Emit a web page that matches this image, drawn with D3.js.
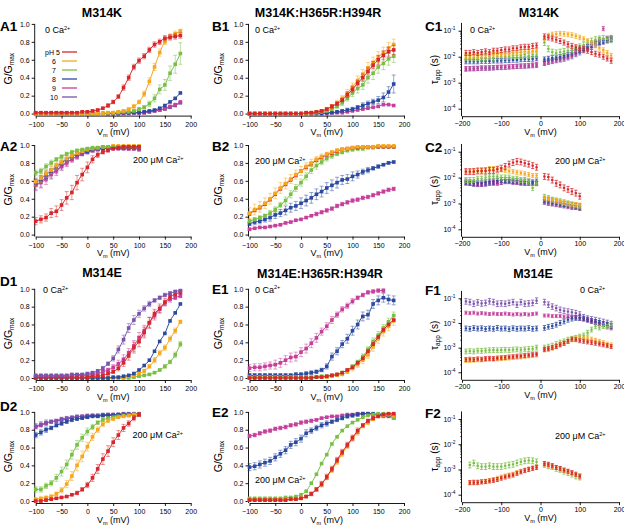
<!DOCTYPE html>
<html><head><meta charset="utf-8">
<script src="https://cdn.jsdelivr.net/npm/d3@7"></script>
<style>
body{margin:0;background:#fff}
svg{display:block}
text{font-family:"Liberation Sans",Arial,Helvetica,sans-serif;fill:#000}
</style>
</head><body>
<svg id="chart" width="624" height="526"></svg>
<script>
// ---------------- voltages (mV) ----------------
const V_G = [-100,-90,-80,-70,-60,-50,-40,-30,-20,-10,0,10,20,30,40,50,60,70,80,90,100,110,120,130,140,150,160,170,180];
const V_G_CA = [-100,-90,-80,-70,-60,-50,-40,-30,-20,-10,0,10,20,30,40,50,60,70,80,90,100];
const V_TAU_L = [-190,-180,-170,-160,-150,-140,-130,-120,-110,-100,-90,-80,-70,-60,-50,-40,-30,-20,-10];
const V_TAU_L2 = [-180,-170,-160,-150,-140,-130,-120,-110,-100,-90,-80,-70,-60,-50,-40,-30,-20,-10];
const V_TAU_R = [10,20,30,40,50,60,70,80,90,100,110,120,130,140,150,160,170,180];
const V_TAU_R2 = [10,20,30,40,50,60,70,80,90,100];

// tick labels
const X_TICKS_G = [-100,-50,0,50,100,150,200];
const Y_TICKS_G = [0,0.2,0.4,0.6,0.8,1.0];
const X_TICKS_TAU = [-200,-100,0,100,200];
const Y_TICKS_TAU = [1e-4,1e-3,1e-2,1e-1];
const PH_LABELS = ["pH 5","6","7","8","9","10"];
const TITLES = ["M314K","M314K:H365R:H394R","M314K","M314E","M314E:H365R:H394R","M314E"];

// ---------------- G/Gmax (percent) ----------------
// A1  M314K, 0 Ca
const a1_5 = [1,1,1,1,1,1,1,1,1,2,2, 3,4,6,9,13,19,29,40,52,59, 64,71,77,80,84,85,86,87];
const a1_5e = [1,1,1,1,1,1,1,1,1,1,1, 1,1,1,2,2,2,3,3,3,3, 3,3,3,3,3,3,3,3];
const a1_6 = [0,0,0,0,0,0,0,0,0,0,0, 0,0,0,1,1,2,3,5,8,13, 22,36,52,68,80,86,89,92];
const a1_6e = [1,1,1,1,1,1,1,1,1,1,1, 1,1,1,1,1,1,1,1,2,2, 3,4,4,4,3,3,3,2];
const a1_7 = [0,0,0,0,0,0,0,0,0,0,0, 0,0,0,1,1,1,2,2,3,5, 7,11,17,27,32,45,55,67];
const a1_7e = [1,1,1,1,1,1,1,1,1,1,1, 1,1,1,1,1,1,1,1,1,2, 2,3,4,5,6,8,10,12];
const a1_8 = [0,0,0,0,0,0,0,0,0,0,0, 0,0,0,0,0,0,1,1,1,1, 2,3,4,6,9,13,17,23];
const a1_9 = [0,0,0,0,0,0,0,0,0,0,0, 0,0,0,0,0,0,0,1,1,1, 1,2,3,4,6,8,10,13];
const a1_10 = [0,0,0,0,0,0,0,0,0,0,0, 0,0,0,0,0,0,0,0,1,1, 1,2,3,4,5,7,9,12];
// A2  M314K, 200 uM Ca
const a2_5 = [15,17,19,24,26,33,41,47,58,67,75,84,89,92,94,96,97,98,98,98,98];
const a2_5e = [4,4,4,5,6,6,7,8,8,7,6,4,3,2,2,1,1,1,1,1,1];
const a2_6 = [59,63,68,72,77,81,85,88,91,93,95,96,97,98,98,99,99,99,99,99,99];
const a2_6e = [5,5,4,4,4,3,3,3,2,2,2,1,1,1,1,1,1,1,1,1,1];
const a2_7 = [69,71,76,80,84,87,90,92,94,95,96,97,97,98,98,98,98,98,98,98,98];
const a2_7e = [3,3,3,3,2,2,2,2,1,1,1,1,1,1,1,1,1,1,1,1,1];
const a2_8 = [58,62,67,71,76,80,84,87,90,92,93,95,96,96,97,97,97,97,97,97,97];
const a2_8e = [4,4,4,3,3,3,2,2,2,2,1,1,1,1,1,1,1,1,1,1,1];
const a2_9 = [55,58,62,67,71,76,80,84,87,90,92,94,95,96,96,96,96,96,96,96,95];
const a2_9e = [6,6,6,5,5,4,4,3,3,2,2,2,1,1,1,1,1,1,2,2,2];
const a2_10 = [56,59,64,68,72,76,81,84,88,90,92,94,95,96,96,96,96,96,96,96,96];
const a2_10e = [6,6,5,5,4,4,4,3,3,2,2,2,1,1,1,1,1,1,1,1,1];
// B1  M314K:H365R:H394R, 0 Ca
const b1_5 = [0,0,0,0,0,0,0,0,0,0,0, 1,1,2,3,5,8,11,15,21,27, 34,40,47,54,60,65,69,71];
const b1_5e = [0,0,0,0,0,0,0,0,0,0,0, 1,1,1,1,1,2,2,2,3,3, 3,4,4,4,5,5,5,5];
const b1_6 = [0,0,0,0,0,0,0,0,0,0,0, 1,1,2,3,5,8,12,17,23,30, 37,44,51,57,63,68,73,77];
const b1_6e = [0,0,0,0,0,0,0,0,0,0,0, 1,1,1,1,2,2,3,3,4,4, 5,5,6,6,6,6,6,6];
const b1_7 = [0,0,0,0,0,0,0,0,0,0,0, 0,1,1,2,3,5,8,12,17,23, 28,32,40,45,52,56,61,64];
const b1_7e = [0,0,0,0,0,0,0,0,0,0,0, 1,1,1,1,1,2,2,3,3,4, 5,5,6,7,7,7,7,7];
const b1_8 = [0,0,0,0,0,0,0,0,0,0,0, 0,0,0,0,1,1,2,3,4,5, 7,9,11,13,15,18,24,33];
const b1_8e = [0,0,0,0,0,0,0,0,0,0,0, 0,0,0,0,1,1,1,1,2,2, 2,3,3,3,4,5,6,10];
const b1_9 = [0,0,0,0,0,0,0,0,0,0,0, 0,0,0,0,0,1,1,1,2,3, 4,5,6,7,8,10,10,9];
// B2  M314K:H365R:H394R, 200 uM Ca
const b2_5 = [23,27,30,34,39,45,51,56,61,66,71, 75,79,83,86,89,91,93,95,96,97, 97,98,98,98,98,98,98,98];
const b2_6 = [24,28,31,35,40,46,52,57,62,67,71, 76,80,84,87,90,92,94,95,96,97, 98,98,98,98,99,99,99,99];
const b2_6e = [6,6,6,6,6,6,6,6,5,5,5, 4,4,3,3,2,2,2,2,1,1, 1,1,1,1,1,1,1,1];
const b2_7 = [15,17,19,21,24,28,33,38,45,52,58, 65,72,77,81,85,88,90,92,94,95, 96,96,97,97,98,98,98,98];
const b2_7e = [2,2,2,2,3,3,3,4,4,4,4, 4,4,4,3,3,3,2,2,2,2, 2,2,1,1,1,1,1,1];
const b2_8 = [12,14,15,17,19,22,24,27,30,32,35, 38,41,45,48,52,55,58,61,62,65, 67,70,72,74,76,78,80,81];
const b2_8e = [2,3,3,3,4,4,4,5,5,5,6, 6,6,6,6,6,6,6,5,5,5, 4,3,3,2,2,1,1,1];
const b2_9 = [6,7,8,8,9,10,11,13,14,16,17, 19,21,23,25,27,29,32,34,36,38, 39,41,42,44,46,48,50,51];
const b2_9e = [1,1,1,1,1,1,1,1,1,1,1, 1,1,2,2,2,2,2,2,2,2, 2,2,2,2,2,2,2,2];
// D1  M314E, 0 Ca
const d1_10 = [3,3,3,3,3,3,3,4,4,4,5, 6,8,11,16,22,32,43,56,65,72, 78,83,87,90,93,95,97,98];
const d1_10e = [1,1,1,1,1,1,1,1,1,1,1, 1,1,2,2,3,4,5,5,5,4, 3,3,2,2,2,2,1,1];
const d1_9 = [2,2,2,2,2,2,2,2,3,3,3, 4,5,7,9,12,16,21,28,36,45, 53,62,70,77,84,88,90,92];
const d1_9e = [1,1,1,1,1,1,1,1,1,1,1, 1,1,2,2,3,4,5,5,6,6, 6,6,5,4,3,3,2,2];
const d1_8 = [0,0,0,0,0,0,0,0,0,0,0, 0,0,0,0,1,1,2,3,5,9, 14,20,30,41,50,64,73,83];
const d1_7 = [0,0,0,0,0,0,0,0,0,0,0, 0,0,0,0,0,0,0,0,1,2, 3,4,6,9,13,18,26,38];
const d1_7e = [0,0,0,0,0,0,0,0,0,0,0, 0,0,0,0,0,0,0,0,1,1, 1,1,1,1,2,2,3,3];
const d1_6 = [0,0,0,0,0,0,0,0,0,0,0, 0,0,0,0,0,0,1,2,3,5, 8,13,20,28,34,44,53,63];
const d1_6e = [0,0,0,0,0,0,0,0,0,0,0, 0,0,0,0,0,0,1,1,1,1, 2,2,3,3,3,3,3,2];
const d1_5 = [1,1,1,1,1,1,1,1,1,1,1, 2,2,3,5,7,11,17,25,34,41, 51,62,72,78,85,91,94,96];
const d1_5e = [0,0,0,0,0,0,0,0,0,0,0, 1,1,1,2,2,3,4,5,6,6, 6,6,5,5,4,3,2,2];
// D2  M314E, 200 uM Ca
const d2_10 = [84,86,88,89,90,92,93,94,95,95,96,96,96,97,97,97,97,98,98,98,98];
const d2_10e = [3,3,3,2,2,2,2,1,1,1,1,1,1,1,1,1,1,1,1,1,1];
const d2_9 = [83,85,87,89,90,91,92,93,94,95,95,96,96,96,97,97,97,97,97,97,97];
const d2_8 = [74,77,80,82,85,87,89,91,92,93,94,95,95,96,96,96,97,97,97,97,97];
const d2_8e = [3,3,3,2,2,2,2,2,1,1,1,1,1,1,1,1,1,1,1,1,1];
const d2_7 = [13,13,17,20,26,33,41,52,63,71,78,83,88,91,93,94,95,96,96,97,97];
const d2_7e = [3,3,3,3,4,5,5,5,5,4,4,3,2,2,1,1,1,1,1,1,1];
const d2_6 = [2,3,4,5,8,12,19,28,40,50,61,72,80,86,90,92,94,95,96,97,97];
const d2_6e = [1,1,1,2,2,3,4,5,6,6,5,4,3,2,2,1,1,1,1,1,1];
const d2_5 = [0,0,1,2,3,4,5,7,9,13,18,26,36,47,56,66,74,82,87,93,97];
const d2_5e = [1,1,1,1,1,1,1,1,2,2,3,4,5,6,6,5,5,4,3,3,2];
// E1  M314E:H365R:H394R, 0 Ca
const e1_9 = [11,12,12,13,14,15,17,20,23,24,29, 33,39,45,52,58,65,71,77,81,86, 90,93,96,97,98,98,null,null];
const e1_9e = [4,4,4,4,4,5,5,5,5,5,5, 5,5,5,4,4,4,3,3,3,3, 2,2,2,2,2,2,null,null];
const e1_8 = [3,3,3,3,3,3,3,3,3,4,4, 5,6,7,9,13,24,30,38,44,53, 60,69,71,83,87,90,88,87];
const e1_8e = [2,2,2,2,2,2,2,2,2,2,2, 2,2,2,2,3,4,4,4,5,5, 5,5,5,5,5,5,5,5];
const e1_7 = [1,1,1,1,1,1,1,1,1,1,1, 1,1,1,2,2,3,4,6,9,13, 18,24,32,41,48,56,63,70];
const e1_7e = [1,1,1,1,1,1,1,1,1,1,1, 1,1,1,1,1,1,1,1,1,2, 2,3,3,4,4,4,4,4];
const e1_6 = [0,0,0,0,0,0,0,0,0,0,0, 0,0,1,1,1,2,3,4,7,11, 15,20,26,35,44,52,58,64];
const e1_6e = [0,0,0,0,0,0,0,0,0,0,0, 0,0,1,1,1,1,1,1,2,3, 3,4,4,5,5,5,5,5];
const e1_5 = [0,0,0,0,0,0,0,0,0,0,0, 0,0,1,1,2,3,4,6,9,12, 17,22,30,38,46,54,60,65];
// E2  M314E:H365R:H394R, 200 uM Ca
const e2_9 = [73,74,76,78,79,81,82,83,85,86,88, 89,90,91,93,94,95,95,96,97,97, 98,98,98,97,96,95,95,93];
const e2_9e = [2,2,2,2,2,2,2,2,2,2,2, 2,2,1,1,1,1,1,1,1,1, 1,1,1,1,1,1,1,1];
const e2_8 = [38,39,41,43,45,49,53,57,63,66,70, 76,79,82,85,87,89,91,93,95,96, 97,98,98,98,97,97,96,96];
const e2_8e = [4,4,4,4,4,4,4,4,4,4,4, 4,3,3,3,3,2,2,2,2,2, 2,1,1,1,1,1,1,1];
const e2_7 = [3,3,3,3,3,3,3,4,4,5,7, 11,20,30,42,52,64,72,79,84,88, 91,94,96,97,98,98,97,93];
const e2_6 = [1,1,1,1,1,1,1,1,2,2,3, 5,8,13,19,27,35,44,53,62,70, 77,84,88,92,95,96,97,96];
const e2_6e = [1,1,1,1,1,1,1,1,1,1,1, 1,2,2,3,3,3,3,3,3,3, 3,2,2,2,1,1,1,1];
const e2_5 = [1,1,1,1,1,1,1,1,2,2,3, 5,8,13,19,27,36,46,55,63,71, 79,85,90,93,95,97,98,98];
const e2_5e = [1,1,1,1,1,1,1,1,1,1,1, 1,2,2,3,3,3,3,3,3,3, 3,2,2,2,1,1,1,1];

// ---------------- tau_app (ms) ----------------
// C1  M314K, 0 Ca
const c1_5L = [14,14,15,14,15,16,15,17,17,18,19,19,21,21,23,24,24,26,27];
const c1_6L = [10,10,11,10,11,11,11,12,12,12,13,13,14,14,15,16,16,17,18];
const c1_7L = [9,9,9,9,9,9,10,9,10,10,10,10,11,11,11,12,11,12,12];
const c1_8L = [6.5,6.5,6.5,6.5,6.8,6.8,6.8,7,7,7,7.2,7.2,7.5,7.5,7.8,8,8,8.2,8.5];
const c1_9L = [3.5,3.5,3.6,3.6,3.7,3.7,3.8,3.8,3.9,4,4,4.1,4.2,4.3,4.4,4.5,4.6,4.8,5];
const c1_10L = [3.3,3.4,3.4,3.5,3.6,3.6,3.6,3.7,3.8,3.8,3.9,4,4.1,4.2,4.3,4.3,4.4,4.5,4.6];
const c1_5R = [60,55,50,45,40,35,30,26,23,21,19,17,15,13,12,10,8.5,7];
const c1_6R = [50,65,72,75,78,75,72,68,62,55,48,40,33,27,22,18,14,11];
const c1_7R = [35,20,15,14,15,16,17,18,20,24,28,34,40,45,48,50,48,45];
const c1_8R = [8,8.5,9,9.5,10,11,12,14,16,18,21,24,28,32,36,40,44,48];
const c1_9R = [6,6.5,7,7.5,8,9,10,12,14,17,20,24,28,34,45,120,50,55];
const c1_10R = [5.5,6,6.5,7,7.5,8,9,10,12,14,17,20,24,28,32,36,40,45];
// C2  M314K, 200 uM Ca
const c2_5L = [17,17,17,18,18,18,19,19,21,23,27,33,38,42,40,36,33,29,25];
const c2_6L = [17,17,18,18,19,20,22,22,21,20,19,18,17,16,15,14,13,12,12];
const c2_7L = [8,8,8,9,9,10,11,11,11,10,10,10,9,9,8,8,7,4,6];
const c2_8L = [7,6.5,6,6,6,6.5,7,7,7.5,8,8,8,7.5,7.5,7,7,7,6.5,7];
const c2_9L = [6,6,6,5.5,5.5,6,6,6.5,6.5,6.5,7,7,7,6.5,6.5,6,6,6,6];
const c2_10L = [6.5,6,5.5,5.5,5.5,5.5,6,6,6,6.5,7,7,6.5,6.5,6,6,6,6,6];
const c2_5R = [11,10.5,8,6,5.2,4,3.5,2.9,2.5,1.9];
const c2_6R = [1.6,1.5,1.4,1.3,1.2,1.1,1.0,0.95,0.9,0.85];
const c2_7R = [1.8,1.6,1.4,1.3,1.2,1.1,1.0,0.9,0.85,0.8];
const c2_8R = [1.4,1.3,1.2,1.1,1.0,0.95,0.9,0.85,0.8,0.75];
const c2_9R = [1.2,1.1,1.0,0.95,0.9,0.85,0.8,0.75,0.7,0.65];
const c2_10R = [1.1,1.0,0.95,0.9,0.85,0.8,0.75,0.7,0.7,0.65];
// F1  M314E, 0 Ca
const f1_10L = [75,70,60,68,62,65,75,70,60,62,60,65,70,55,70,60,62,65,80];
const f1_9L = [26,25,26,24,25,24,23,24,23,23,24,23,22,23,22,23,22,23,24];
const f1_8L = [6.0,5.8,6.2,5.9,6.1,5.7,6.0,5.8,6.3,5.9,6.0,5.6,6.1,5.8,6.0,5.9,6.2,5.8,6.0];
const f1_7L = [0.7,0.72,0.7,0.75,0.74,0.76,0.78,0.8,0.78,0.8,0.82,0.8,0.83,0.85,0.82,0.85,0.88,0.9,1.0];
const f1_6L = [0.3,0.3,0.31,0.32,0.32,0.33,0.34,0.34,0.35,0.36,0.37,0.38,0.4,0.41,0.42,0.44,0.46,0.48,0.5];
const f1_5L = [0.33,0.34,0.33,0.35,0.34,0.36,0.37,0.36,0.38,0.39,0.4,0.42,0.43,0.45,0.46,0.48,0.5,0.52,0.55];
const f1_10R = [70,55,46,40,34,31,29,27,25,22,17,15,14,13,12,11,10,9];
const f1_9R = [20,20,19,19,19,18,18,17,16,15,14,13,12,10,9,8,7,6];
const f1_8R = [6.3,7,7.5,8.5,10,11.5,13.5,15,16,16,15,13.5,12,11,10,9,8.5,7.5];
const f1_7R = [1.0,1.1,1.2,1.4,1.6,1.8,2.1,2.3,2.5,2.8,3.1,4.0,5.4,7.3,6.5,7.5,7.0,8.0];
const f1_6R = [0.8,0.85,0.95,1.1,1.3,1.5,1.8,2.1,2.4,2.6,2.5,2.4,2.2,2.0,1.8,1.6,1.4,1.3];
const f1_5R = [0.85,0.9,1.0,1.1,1.3,1.5,1.8,2.2,2.1,1.9,1.8,1.7,1.6,1.5,1.4,1.3,1.2,1.1];
// F2  M314E, 200 uM Ca
const f2_7L = [1.5,1.8,1.4,1.3,1.3,1.4,1.3,1.3,1.3,1.4,1.5,1.6,1.8,2.0,2.2,2.3,2.2,2.0];
const f2_6L = [0.3,0.32,0.32,0.33,0.34,0.36,0.4,0.45,0.5,0.55,0.6,0.65,0.75,0.85,0.95,1.05,1.15,1.25];
const f2_5L = [0.3,0.3,0.3,0.32,0.33,0.35,0.37,0.4,0.45,0.5,0.55,0.6,0.7,0.8,0.9,1.0,1.1,1.2];
const f2_7R = [1.6,1.4,1.3,1.1,1.0,0.85,0.75,0.65,0.55,0.5];
const f2_6R = [1.5,1.4,1.3,1.2,1.0,0.9,0.8,0.7,0.6,0.5];
const f2_5R = [1.7,1.6,1.4,1.2,1.1,0.95,0.85,0.75,0.65,0.55];
// relative error of tau per series (pH 5,6,7,8,9,10)
const c1_err = [0.25,0.22,0.3,0.22,0.2,0.2];
const c2_err = [0.3,0.2,0.25,0.25,0.2,0.2];
const f1_err = [0.2,0.2,0.25,0.25,0.15,0.3];
const f2_err = [0.2,0.2,0.3];

// ---------------- drawing ----------------
const COLORS = {5:"#d8262b",6:"#f5a81f",7:"#79bf45",8:"#2c4ba0",9:"#c53f9b",10:"#7a53ad"};
const svg = d3.select("#chart");

function styleAxis(g, fs){
  g.select(".domain").attr("stroke","#000").attr("stroke-width",0.9);
  g.selectAll(".tick line").attr("stroke","#000").attr("stroke-width",0.9);
  g.selectAll(".tick text").attr("font-size",fs).attr("font-family","Liberation Sans, Arial, sans-serif").attr("fill","#000");
}
function addText(x,y,str,opt={}){
  return svg.append("text").attr("x",x).attr("y",y).attr("font-size",opt.fs||9)
    .attr("font-weight",opt.bold?"bold":"normal").attr("text-anchor",opt.anchor||"start").text(str);
}
function caText(x,y,prefix){
  const t = svg.append("text").attr("x",x).attr("y",y).attr("font-size",9);
  t.append("tspan").text(prefix+"Ca");
  t.append("tspan").attr("font-size",5.5).attr("dy",-3.5).text("2+");
}
function vmLabel(cx,y){
  const t = svg.append("text").attr("x",cx).attr("y",y).attr("font-size",9).attr("text-anchor","middle");
  t.append("tspan").text("V");
  t.append("tspan").attr("font-size",5.5).attr("dy",2).text("m");
  t.append("tspan").attr("dy",-2).text(" (mV)");
}
function yLabelG(x,cy){
  const t = svg.append("text").attr("transform",`translate(${x},${cy}) rotate(-90)`).attr("font-size",10.5).attr("text-anchor","middle");
  t.append("tspan").text("G/G");
  t.append("tspan").attr("font-size",6.5).attr("dy",2).text("max");
}
function yLabelTau(x,cy){
  const t = svg.append("text").attr("transform",`translate(${x},${cy}) rotate(-90)`).attr("font-size",10).attr("text-anchor","middle");
  t.append("tspan").text("\u03C4");
  t.append("tspan").attr("font-size",6.5).attr("dy",2).text("app");
  t.append("tspan").attr("dy",-2).text(" (s)");
}

const G_COLS = [[35.7,190.7],[249.5,404]];
const ROWS_G = [[113.6,23.9],[234.6,145],[378,288.8],[501,411.9]];
const TAU_X = [462,619];
const ROWS_TAU = [[108.7,30.7],[229.3,151.7],[372.3,298.3],[494.7,419]];

function gPanel(p){
  const [xa,xb] = G_COLS[p.col], [y0,y1] = ROWS_G[p.row];
  const x = d3.scaleLinear().domain([-100,200]).range([xa,xb]);
  const y = d3.scaleLinear().domain([0,1]).range([y0,y1]);
  const axY = y0+2, axX = xa-1;
  const gx = svg.append("g").attr("transform",`translate(0,${axY})`)
    .call(d3.axisBottom(x).tickValues(X_TICKS_G).tickSize(3).tickSizeOuter(0).tickPadding(3.5));
  styleAxis(gx,7);
  const gy = svg.append("g").attr("transform",`translate(${axX},0)`)
    .call(d3.axisLeft(y).tickValues(Y_TICKS_G).tickFormat(d3.format(".1f")).tickSize(3).tickSizeOuter(0).tickPadding(2));
  styleAxis(gy,7);
  gy.select(".domain").attr("d",`M0,${axY}V${y1}`);
  vmLabel((xa+xb)/2, axY+19.5);
  yLabelG(p.col===0?12:222,(y0+y1)/2);
  const plot = svg.append("g");
  p.series.forEach(s=>{
    const c = COLORS[s.ph];
    const pts = s.v.map((v,i)=>({V:s.V[i], g:v, e:s.e?s.e[i]:0})).filter(d=>d.g!==null);
    const eg = plot.append("g").attr("stroke",c).attr("stroke-opacity",0.55).attr("stroke-width",0.9);
    pts.filter(d=>d.e>0).forEach(d=>{
      const ya = y((d.g+d.e)/100), yb = y((d.g-d.e)/100), xx = x(d.V);
      eg.append("line").attr("x1",xx).attr("x2",xx).attr("y1",ya).attr("y2",yb);
      eg.append("line").attr("x1",xx-2).attr("x2",xx+2).attr("y1",ya).attr("y2",ya);
      eg.append("line").attr("x1",xx-2).attr("x2",xx+2).attr("y1",yb).attr("y2",yb);
    });
    plot.append("path").datum(pts).attr("fill","none").attr("stroke",c).attr("stroke-width",1)
      .attr("d",d3.line().x(d=>x(d.V)).y(d=>y(d.g/100)).curve(d3.curveMonotoneX));
    plot.append("g").attr("fill",c).selectAll("rect").data(pts).join("rect")
      .attr("x",d=>x(d.V)-1.8).attr("y",d=>y(d.g/100)-1.8).attr("width",3.6).attr("height",3.6);
  });
}

function tauPanel(p){
  const [y4,y1] = ROWS_TAU[p.row];
  const x = d3.scaleLinear().domain([-200,200]).range(TAU_X);
  const y = d3.scaleLog().domain([1e-4,1e-1]).range([y4,y1]);
  const lo = Math.pow(10,-4.25), hi = Math.pow(10,-0.7);
  const yA = y.copy().domain([lo,hi]).range([y(lo),y(hi)]);
  const axY = y4+7.5, axX = TAU_X[0]-0.5;
  const gx = svg.append("g").attr("transform",`translate(0,${axY})`)
    .call(d3.axisBottom(x).tickValues(X_TICKS_TAU).tickSize(3).tickSizeOuter(0).tickPadding(1.5));
  styleAxis(gx,7);
  const gy = svg.append("g").attr("transform",`translate(${axX},0)`)
    .call(d3.axisLeft(yA).tickValues(Y_TICKS_TAU).tickSize(3).tickSizeOuter(0).tickPadding(3));
  styleAxis(gy,7);
  gy.select(".domain").attr("d",`M0,${axY}V${y(hi)}`);
  gy.selectAll(".tick text").each(function(d){
    const t = d3.select(this); const ex = Math.round(Math.log10(d));
    t.text(null);
    t.append("tspan").text("10");
    t.append("tspan").attr("font-size",4.8).attr("dy",-3).text(String(ex));
  });
  const minors = [];
  [1e-4,1e-3,1e-2].forEach(b=>{ for(let k=2;k<10;k++) minors.push(b*k); });
  gy.selectAll(".minor").data(minors).join("line").attr("x1",0).attr("x2",-1.5)
    .attr("y1",d=>yA(d)).attr("y2",d=>yA(d)).attr("stroke","#000").attr("stroke-width",0.6);
  vmLabel((TAU_X[0]+TAU_X[1])/2, axY+18.5);
  yLabelTau(438,(y(hi)+axY)/2);
  const plot = svg.append("g");
  p.series.forEach(s=>{
    const c = COLORS[s.ph];
    s.parts.forEach(part=>{
      const pts = part.v.map((v,i)=>({V:part.V[i], t:v/1000}));
      const eg = plot.append("g").attr("stroke",c).attr("stroke-width",0.9).attr("stroke-opacity",0.85);
      pts.forEach(d=>{
        const xx = x(d.V), ya = y(d.t*(1+s.err)), yb = y(d.t/(1+s.err));
        eg.append("line").attr("x1",xx).attr("x2",xx).attr("y1",ya).attr("y2",yb);
        eg.append("line").attr("x1",xx-1.6).attr("x2",xx+1.6).attr("y1",ya).attr("y2",ya);
        eg.append("line").attr("x1",xx-1.6).attr("x2",xx+1.6).attr("y1",yb).attr("y2",yb);
      });
      plot.append("g").attr("fill",c).selectAll("rect").data(pts).join("rect")
        .attr("x",d=>x(d.V)-1.2).attr("y",d=>y(d.t)-1).attr("width",2.4).attr("height",2);
    });
  });
}

// G panels
gPanel({col:0,row:0,series:[
  {ph:10,V:V_G,v:a1_10},{ph:9,V:V_G,v:a1_9},{ph:8,V:V_G,v:a1_8},
  {ph:7,V:V_G,v:a1_7,e:a1_7e},{ph:6,V:V_G,v:a1_6,e:a1_6e},{ph:5,V:V_G,v:a1_5,e:a1_5e}]});
gPanel({col:0,row:1,series:[
  {ph:10,V:V_G_CA,v:a2_10,e:a2_10e},{ph:9,V:V_G_CA,v:a2_9,e:a2_9e},{ph:8,V:V_G_CA,v:a2_8,e:a2_8e},
  {ph:6,V:V_G_CA,v:a2_6,e:a2_6e},{ph:7,V:V_G_CA,v:a2_7,e:a2_7e},{ph:5,V:V_G_CA,v:a2_5,e:a2_5e}]});
gPanel({col:1,row:0,series:[
  {ph:9,V:V_G,v:b1_9},{ph:8,V:V_G,v:b1_8,e:b1_8e},{ph:7,V:V_G,v:b1_7,e:b1_7e},
  {ph:6,V:V_G,v:b1_6,e:b1_6e},{ph:5,V:V_G,v:b1_5,e:b1_5e}]});
gPanel({col:1,row:1,series:[
  {ph:9,V:V_G,v:b2_9,e:b2_9e},{ph:8,V:V_G,v:b2_8,e:b2_8e},{ph:7,V:V_G,v:b2_7,e:b2_7e},
  {ph:5,V:V_G,v:b2_5},{ph:6,V:V_G,v:b2_6,e:b2_6e}]});
gPanel({col:0,row:2,series:[
  {ph:7,V:V_G,v:d1_7,e:d1_7e},{ph:6,V:V_G,v:d1_6,e:d1_6e},{ph:8,V:V_G,v:d1_8},
  {ph:9,V:V_G,v:d1_9,e:d1_9e},{ph:5,V:V_G,v:d1_5,e:d1_5e},{ph:10,V:V_G,v:d1_10,e:d1_10e}]});
gPanel({col:0,row:3,series:[
  {ph:9,V:V_G_CA,v:d2_9},{ph:10,V:V_G_CA,v:d2_10,e:d2_10e},{ph:8,V:V_G_CA,v:d2_8,e:d2_8e},
  {ph:7,V:V_G_CA,v:d2_7,e:d2_7e},{ph:6,V:V_G_CA,v:d2_6,e:d2_6e},{ph:5,V:V_G_CA,v:d2_5,e:d2_5e}]});
gPanel({col:1,row:2,series:[
  {ph:9,V:V_G,v:e1_9,e:e1_9e},{ph:8,V:V_G,v:e1_8,e:e1_8e},{ph:6,V:V_G,v:e1_6,e:e1_6e},
  {ph:7,V:V_G,v:e1_7,e:e1_7e},{ph:5,V:V_G,v:e1_5}]});
gPanel({col:1,row:3,series:[
  {ph:9,V:V_G,v:e2_9,e:e2_9e},{ph:8,V:V_G,v:e2_8,e:e2_8e},{ph:7,V:V_G,v:e2_7},
  {ph:6,V:V_G,v:e2_6,e:e2_6e},{ph:5,V:V_G,v:e2_5,e:e2_5e}]});

// tau panels
const PH_ORDER = [5,6,7,8,9,10];
tauPanel({row:0,series:[
  {ph:10,err:c1_err[5],parts:[{V:V_TAU_L,v:c1_10L},{V:V_TAU_R,v:c1_10R}]},
  {ph:9,err:c1_err[4],parts:[{V:V_TAU_L,v:c1_9L},{V:V_TAU_R,v:c1_9R}]},
  {ph:8,err:c1_err[3],parts:[{V:V_TAU_L,v:c1_8L},{V:V_TAU_R,v:c1_8R}]},
  {ph:7,err:c1_err[2],parts:[{V:V_TAU_L,v:c1_7L},{V:V_TAU_R,v:c1_7R}]},
  {ph:6,err:c1_err[1],parts:[{V:V_TAU_L,v:c1_6L},{V:V_TAU_R,v:c1_6R}]},
  {ph:5,err:c1_err[0],parts:[{V:V_TAU_L,v:c1_5L},{V:V_TAU_R,v:c1_5R}]}]});
tauPanel({row:1,series:[
  {ph:10,err:c2_err[5],parts:[{V:V_TAU_L,v:c2_10L},{V:V_TAU_R2,v:c2_10R}]},
  {ph:9,err:c2_err[4],parts:[{V:V_TAU_L,v:c2_9L},{V:V_TAU_R2,v:c2_9R}]},
  {ph:8,err:c2_err[3],parts:[{V:V_TAU_L,v:c2_8L},{V:V_TAU_R2,v:c2_8R}]},
  {ph:7,err:c2_err[2],parts:[{V:V_TAU_L,v:c2_7L},{V:V_TAU_R2,v:c2_7R}]},
  {ph:6,err:c2_err[1],parts:[{V:V_TAU_L,v:c2_6L},{V:V_TAU_R2,v:c2_6R}]},
  {ph:5,err:c2_err[0],parts:[{V:V_TAU_L,v:c2_5L},{V:V_TAU_R2,v:c2_5R}]}]});
tauPanel({row:2,series:[
  {ph:10,err:f1_err[5],parts:[{V:V_TAU_L,v:f1_10L},{V:V_TAU_R,v:f1_10R}]},
  {ph:9,err:f1_err[4],parts:[{V:V_TAU_L,v:f1_9L},{V:V_TAU_R,v:f1_9R}]},
  {ph:8,err:f1_err[3],parts:[{V:V_TAU_L,v:f1_8L},{V:V_TAU_R,v:f1_8R}]},
  {ph:7,err:f1_err[2],parts:[{V:V_TAU_L,v:f1_7L},{V:V_TAU_R,v:f1_7R}]},
  {ph:6,err:f1_err[1],parts:[{V:V_TAU_L,v:f1_6L},{V:V_TAU_R,v:f1_6R}]},
  {ph:5,err:f1_err[0],parts:[{V:V_TAU_L,v:f1_5L},{V:V_TAU_R,v:f1_5R}]}]});
tauPanel({row:3,series:[
  {ph:7,err:f2_err[2],parts:[{V:V_TAU_L2,v:f2_7L},{V:V_TAU_R2,v:f2_7R}]},
  {ph:6,err:f2_err[1],parts:[{V:V_TAU_L2,v:f2_6L},{V:V_TAU_R2,v:f2_6R}]},
  {ph:5,err:f2_err[0],parts:[{V:V_TAU_L2,v:f2_5L},{V:V_TAU_R2,v:f2_5R}]}]});

// titles
addText(102,16.5,TITLES[0],{fs:12.5,bold:true,anchor:"middle"});
addText(318,16.5,TITLES[1],{fs:12.5,bold:true,anchor:"middle"});
addText(539,16.5,TITLES[2],{fs:12.5,bold:true,anchor:"middle"});
addText(102,277,TITLES[3],{fs:12.5,bold:true,anchor:"middle"});
addText(320,277.5,TITLES[4],{fs:12.5,bold:true,anchor:"middle"});
addText(533,277.5,TITLES[5],{fs:12.5,bold:true,anchor:"middle"});
// panel labels
[["A1",0,31],["A2",0,151],["B1",212,31],["B2",212,151],["C1",425,31],["C2",425,152],
 ["D1",0,286],["D2",0,411],["E1",212,293.5],["E2",212,417],["F1",425,294.5],["F2",425,417.5]]
 .forEach(([s,x,y])=>addText(x,y,s,{fs:13.5,bold:true}));
// calcium notes
caText(45,33,"0 ");
caText(133,163,"200 \u03BCM ");
caText(255,33,"0 ");
caText(255,164,"200 \u03BCM ");
caText(470,33,"0 ");
caText(555,164,"200 \u03BCM ");
caText(43,293,"0 ");
caText(132.5,438,"200 \u03BCM ");
caText(255,292.5,"0 ");
caText(255,483,"200 \u03BCM ");
caText(580,293,"0 ");
caText(555,439,"200 \u03BCM ");
// legend (A1)
PH_ORDER.forEach((ph,i)=>{
  const yy = 52 + i*9;
  svg.append("line").attr("x1",62).attr("x2",77).attr("y1",yy).attr("y2",yy).attr("stroke",COLORS[ph]).attr("stroke-width",1.3);
  if(i===0) addText(45,yy+2.5,PH_LABELS[i],{fs:7});
  else addText(54,yy+2.5,PH_LABELS[i],{fs:7,anchor:"middle"});
});
</script>
</body></html>
